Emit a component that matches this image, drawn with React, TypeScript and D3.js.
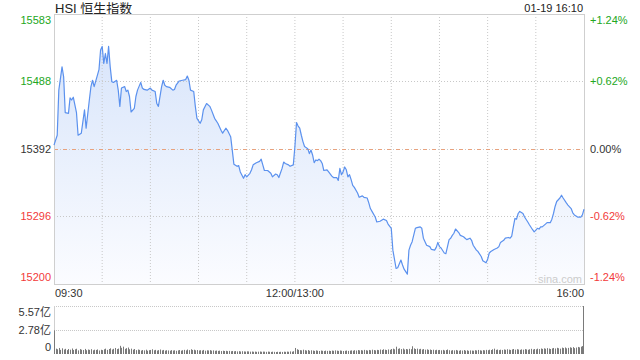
import React from "react";
import * as d3 from "d3";

const title = "HSI 恒生指数";
const stamp = "01-19 16:10";
const prevClose = 15391.5;
const priceTicks = [15583, 15488, 15392, 15296, 15200];
const pctTicks = ["+1.24%", "+0.62%", "0.00%", "-0.62%", "-1.24%"];
const timeLabels = ["09:30", "12:00/13:00", "16:00"];
const timeLabelMinutes = [0, 150, 330];
const volTicks = [5.57, 2.78, 0];
const volTickLabels = ["5.57亿", "2.78亿", "0"];

// trading minutes since 09:30 (lunch break removed) and index level
const minutes = [
  0, 2, 3, 5, 6, 7, 9, 10, 11, 12, 14, 15, 17, 19, 20, 22, 23, 24, 25, 27,
  28, 29, 30, 31, 32, 33, 34, 35, 36, 37, 39, 40, 41, 42, 44, 45, 46, 47, 48, 50,
  51, 52, 54, 55, 56, 58, 60, 61, 63, 64, 65, 67, 68, 69, 70, 72, 74, 75, 76, 78,
  80, 82, 83, 84, 85, 87, 88, 89, 91, 92, 93, 95, 97, 98, 100, 102, 104, 105, 107, 108,
  110, 111, 112, 114, 115, 116, 118, 119, 120, 122, 123, 124, 126, 128, 129, 130, 131, 133, 135, 136,
  138, 139, 140, 142, 143, 144, 146, 147, 149, 150, 151, 152, 153, 154, 155, 156, 158, 159, 160, 161,
  162, 163, 164, 165, 166, 167, 168, 170, 171, 173, 174, 176, 177, 178, 179, 180, 181, 182, 183, 184,
  185, 186, 187, 189, 190, 192, 193, 195, 196, 197, 198, 200, 201, 203, 205, 207, 208, 210, 211, 213,
  214, 216, 217, 218, 220, 221, 222, 223, 225, 226, 228, 229, 230, 232, 234, 235, 237, 238, 239, 240,
  241, 243, 244, 246, 247, 248, 249, 250, 252, 253, 255, 256, 257, 259, 260, 261, 263, 264, 266, 267,
  269, 270, 271, 272, 274, 276, 277, 278, 280, 281, 283, 284, 285, 286, 287, 288, 289, 290, 292, 293,
  295, 296, 298, 299, 301, 302, 303, 304, 306, 307, 309, 310, 311, 312, 313, 315, 316, 317, 319, 320,
  322, 323, 324, 326, 328, 329, 330,
];
const prices = [
  15397, 15411, 15475, 15508, 15494, 15443, 15442, 15464, 15461, 15465, 15443, 15411, 15414, 15447, 15421, 15461, 15480, 15489, 15480, 15496,
  15504, 15532, 15537, 15513, 15527, 15513, 15537, 15508, 15487, 15486, 15489, 15475, 15452, 15478, 15480, 15473, 15475, 15466, 15444, 15449,
  15466, 15475, 15486, 15478, 15476, 15475, 15478, 15475, 15473, 15456, 15452, 15480, 15489, 15482, 15480, 15479, 15475, 15476, 15482, 15488,
  15489, 15490, 15495, 15489, 15475, 15473, 15452, 15435, 15428, 15433, 15447, 15456, 15452, 15447, 15435, 15428, 15418, 15414, 15421, 15418,
  15409, 15390, 15370, 15367, 15368, 15359, 15350, 15355, 15352, 15357, 15362, 15369, 15372, 15374, 15377, 15369, 15361, 15361, 15357, 15352,
  15356, 15355, 15351, 15364, 15373, 15371, 15369, 15367, 15369, 15395, 15429, 15424, 15421, 15411, 15402, 15395, 15392, 15385, 15390, 15383,
  15372, 15376, 15375, 15377, 15375, 15371, 15361, 15362, 15359, 15353, 15351, 15351, 15347, 15364, 15355, 15359, 15366, 15362, 15352, 15355,
  15348, 15340, 15337, 15329, 15323, 15325, 15323, 15322, 15315, 15307, 15303, 15295, 15288, 15289, 15292, 15290, 15285, 15279, 15248, 15222,
  15223, 15234, 15227, 15221, 15214, 15248, 15255, 15260, 15279, 15280, 15281, 15279, 15265, 15255, 15253, 15249, 15248, 15252, 15259, 15253,
  15251, 15244, 15243, 15263, 15265, 15269, 15272, 15278, 15273, 15269, 15267, 15265, 15263, 15265, 15262, 15255, 15248, 15246, 15239, 15233,
  15230, 15235, 15244, 15246, 15249, 15251, 15253, 15259, 15262, 15265, 15266, 15265, 15268, 15281, 15293, 15292, 15300, 15303, 15300, 15295,
  15288, 15284, 15277, 15274, 15279, 15278, 15281, 15281, 15285, 15287, 15287, 15292, 15300, 15310, 15317, 15322, 15326, 15322, 15315, 15312,
  15307, 15301, 15298, 15295, 15295, 15298, 15306,
];

// per-minute turnover, 亿
const volumes = [
  2.75,
  0.62, 0.55, 0.70, 0.48, 0.66, 0.52, 0.60, 0.45, 0.58, 0.50,
  0.64, 0.47, 0.55, 0.61, 0.42, 0.57, 0.50, 0.46, 0.59, 0.44,
  0.52, 0.48, 0.56, 0.43, 0.50, 0.47, 0.53, 0.41, 0.49, 0.45,
  0.55, 0.62, 0.48, 0.58, 0.66, 0.52, 0.60, 0.70, 0.57, 0.63,
  0.95, 0.72, 0.85, 0.60, 0.68, 0.75, 0.55, 0.62, 0.50, 0.58,
  0.45, 0.52, 0.48, 0.40, 0.46, 0.42, 0.50, 0.38, 0.44, 0.47,
  0.55, 0.43, 0.48, 0.40, 0.45, 0.52, 0.42, 0.47, 0.39, 0.44,
  0.41, 0.38, 0.45, 0.40, 0.43, 0.37, 0.42, 0.46, 0.39, 0.44,
  0.48, 0.42, 0.52, 0.45, 0.55, 0.47, 0.50, 0.43, 0.46, 0.41,
  0.44, 0.40, 0.47, 0.38, 0.43, 0.41, 0.45, 0.39, 0.42, 0.37,
  0.40, 0.36, 0.39, 0.34, 0.38, 0.35, 0.37, 0.33, 0.36, 0.32,
  0.35, 0.31, 0.34, 0.30, 0.33, 0.29, 0.32, 0.30, 0.28, 0.31,
  0.30, 0.27, 0.29, 0.26, 0.28, 0.25, 0.27, 0.29, 0.26, 0.28,
  0.27, 0.25, 0.28, 0.26, 0.24, 0.27, 0.25, 0.23, 0.26, 0.24,
  0.26, 0.24, 0.27, 0.25, 0.28, 0.26, 0.30, 0.27, 0.32, 0.70,
  0.55, 0.48, 0.45, 0.42, 0.50, 0.44, 0.40, 0.46, 0.38, 0.43,
  0.40, 0.36, 0.42, 0.38, 0.35, 0.40, 0.37, 0.34, 0.39, 0.36,
  0.38, 0.35, 0.40, 0.37, 0.42, 0.39, 0.36, 0.41, 0.38, 0.35,
  0.37, 0.40, 0.36, 0.39, 0.42, 0.38, 0.44, 0.40, 0.46, 0.42,
  0.45, 0.41, 0.48, 0.44, 0.40, 0.47, 0.43, 0.50, 0.46, 0.42,
  0.48, 0.45, 0.52, 0.47, 0.55, 0.50, 0.46, 0.53, 0.49, 0.58,
  0.62, 0.55, 0.85, 0.60, 0.66, 0.57, 0.63, 0.52, 0.58, 0.54,
  0.60, 0.56, 0.90, 0.65, 0.58, 0.62, 0.55, 0.60, 0.52, 0.57,
  0.50, 0.54, 0.48, 0.52, 0.46, 0.50, 0.44, 0.49, 0.45, 0.47,
  0.43, 0.48, 0.41, 0.46, 0.52, 0.44, 0.40, 0.45, 0.42, 0.47,
  0.41, 0.38, 0.44, 0.40, 0.46, 0.39, 0.43, 0.37, 0.42, 0.40,
  0.38, 0.44, 0.41, 0.47, 0.43, 0.39, 0.45, 0.42, 0.48, 0.44,
  0.50, 0.46, 0.55, 0.62, 0.48, 0.52, 0.45, 0.50, 0.47, 0.53,
  0.49, 0.55, 0.51, 0.47, 0.53, 0.58, 0.50, 0.56, 0.52, 0.48,
  0.54, 0.50, 0.57, 0.53, 0.49, 0.55, 0.60, 0.52, 0.58, 0.54,
  0.62, 0.57, 0.64, 0.59, 0.66, 0.61, 0.68, 0.63, 0.58, 0.65,
  0.70, 0.64, 0.72, 0.67, 0.62, 0.74, 0.69, 0.76, 0.66, 0.71,
  0.78, 0.72, 0.80, 0.68, 0.75, 0.82, 0.77, 0.85, 0.92, 5.57,
];

const FONT = "'Liberation Sans', Arial, 'Noto Sans CJK SC', sans-serif";
const GREEN = "#22a722";
const RED = "#f23a3a";
const DARK = "#333333";

export default function App() {
  const L = 54, R = 584, T = 14, B = 284;
  const VT = 306, VB = 354;
  const x = d3.scaleLinear().domain([0, 330]).range([L, R]);
  const y = d3.scaleLinear().domain([15200, 15583]).range([B, T]);
  const yv = d3.scaleLinear().domain([0, 5.57]).range([VB, VT]);

  const pts = minutes.map((m, i) => [m, prices[i]] as [number, number]);
  const line = d3.line<[number, number]>().x((d) => x(d[0])).y((d) => y(d[1]));
  const area = d3
    .area<[number, number]>()
    .x((d) => x(d[0]))
    .y0(B)
    .y1((d) => y(d[1]));

  const vGrid = d3.range(1, 11).map((k) => x(k * 30));
  const colorFor = (v: number) => (v > prevClose + 1 ? GREEN : v < prevClose - 1 ? RED : DARK);

  const labelY = (i: number, n: number, py: number) =>
    i === 0 ? py + 10 : i === n - 1 ? py - 3 : py + 4;

  return (
    <svg
      width={640}
      height={360}
      style={{ position: "absolute", left: 0, top: 0, background: "#fff" }}
      fontFamily={FONT}
    >
      <defs>
        <linearGradient id="fillGrad" gradientUnits="userSpaceOnUse" x1="0" y1={T} x2="0" y2={B}>
          <stop offset="0%" stopColor="#d4e2fa" />
          <stop offset="100%" stopColor="#fbfcff" />
        </linearGradient>
      </defs>

      <text x={55} y={13} fontSize={13} fill="#222">{title}</text>
      <text x={583} y={12} fontSize={11} fill="#222" textAnchor="end">{stamp}</text>

      <path d={area(pts) || ""} fill="url(#fillGrad)" />

      {vGrid.map((gx, i) => (
        <line key={"vg" + i} x1={gx} x2={gx} y1={T} y2={B} stroke="#c8c8c8" strokeDasharray="1,2" />
      ))}
      {priceTicks.slice(1, 4).map((p, i) => (
        <line key={"hg" + i} x1={L} x2={R} y1={Math.round(y(p)) + 0.5} y2={Math.round(y(p)) + 0.5} stroke="#c8c8c8" strokeDasharray="1,2" />
      ))}
      <line x1={L} x2={R} y1={Math.round(y(prevClose)) + 0.5} y2={Math.round(y(prevClose)) + 0.5} stroke="#e8a27e" strokeDasharray="4,5" />

      <rect x={L + 0.5} y={T + 0.5} width={R - L} height={B - T} fill="none" stroke="#cfcfcf" />

      <path d={line(pts) || ""} fill="none" stroke="#5b91ee" strokeWidth={1.2} strokeLinejoin="round" />

      <text x={582} y={283} fontSize={11} fill="#cccccc" textAnchor="end">sina.com</text>

      {priceTicks.map((p, i) => (
        <text key={"pl" + i} x={51} y={labelY(i, priceTicks.length, y(p))} fontSize={11} textAnchor="end" fill={colorFor(p)}>
          {p}
        </text>
      ))}
      {pctTicks.map((t, i) => (
        <text key={"pr" + i} x={590} y={labelY(i, pctTicks.length, y(priceTicks[i]))} fontSize={11} fill={colorFor(priceTicks[i])}>
          {t}
        </text>
      ))}

      {timeLabels.map((t, i) => (
        <text
          key={"tl" + i}
          x={i === 0 ? x(timeLabelMinutes[i]) + 1 : i === timeLabels.length - 1 ? x(timeLabelMinutes[i]) : x(timeLabelMinutes[i])}
          y={297}
          fontSize={11}
          fill={DARK}
          textAnchor={i === 0 ? "start" : i === timeLabels.length - 1 ? "end" : "middle"}
        >
          {t}
        </text>
      ))}

      {/* volume panel */}
      {volTicks.slice(0, 2).map((v, i) => (
        <line key={"vl" + i} x1={L} x2={R} y1={Math.round(yv(v)) + 0.5} y2={Math.round(yv(v)) + 0.5} stroke="#c8c8c8" strokeDasharray="1,1" />
      ))}
      <line x1={L + 0.5} x2={L + 0.5} y1={VT} y2={VB} stroke="#cfcfcf" />
      {volumes.map((v, i) => {
        const bx = Math.round(x(i));
        return <rect key={"vb" + i} x={Math.min(bx, R - 1)} y={yv(v)} width={1} height={VB - yv(v)} fill="#7a7a7a" />;
      })}
      {volTickLabels.map((t, i) => (
        <text key={"vt" + i} x={51} y={labelY(i, volTickLabels.length, yv(volTicks[i]))} fontSize={11} textAnchor="end" fill={DARK}>
          {t}
        </text>
      ))}
    </svg>
  );
}
